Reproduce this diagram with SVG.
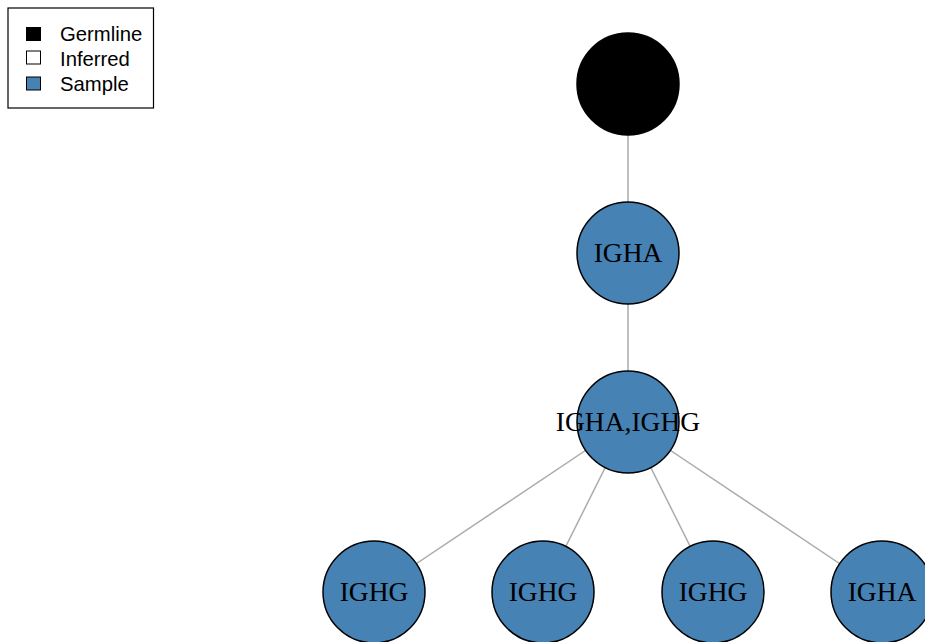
<svg xmlns="http://www.w3.org/2000/svg" width="925" height="642" viewBox="0 0 925 642">
<style>
.edge{stroke:#aaaaaa;stroke-width:1.5;fill:none}
.node{stroke:#000;stroke-width:1.5}
.sample{fill:#4682b4}
.lbl{font-family:"Liberation Serif","Times New Roman",serif;font-size:27.5px;fill:#000;text-anchor:middle}
.leg{font-family:"Liberation Sans",Arial,sans-serif;font-size:20.3px;fill:#000}
</style>
<rect width="925" height="642" fill="#fff"/>
<g id="legend">
<rect x="8" y="8" width="145.5" height="100" fill="#fff" stroke="#000" stroke-width="1.2"/>
<rect x="26.5" y="27.5" width="14" height="13" fill="#000" stroke="#000" stroke-width="1"/>
<rect x="26.5" y="51" width="14" height="13" fill="#fff" stroke="#000" stroke-width="1"/>
<rect x="26.5" y="77" width="14" height="13" fill="#4682b4" stroke="#000" stroke-width="1"/>
<text class="leg" x="60" y="41">Germline</text>
<text class="leg" x="60" y="66">Inferred</text>
<text class="leg" x="60" y="91">Sample</text>
</g>
<g id="edges">
<line class="edge" x1="628" y1="84" x2="628" y2="253"/>
<line class="edge" x1="628" y1="253" x2="628" y2="422"/>
<line class="edge" x1="628" y1="422" x2="374" y2="592"/>
<line class="edge" x1="628" y1="422" x2="543" y2="592"/>
<line class="edge" x1="628" y1="422" x2="713" y2="592"/>
<line class="edge" x1="628" y1="422" x2="882" y2="592"/>
</g>
<g id="germline"><circle class="node" cx="628" cy="84" r="51" fill="#000"/></g>
<g id="n1"><circle class="node sample" cx="628" cy="253" r="51"/><text class="lbl" x="628" y="262">IGHA</text></g>
<g id="n2"><circle class="node sample" cx="628" cy="422" r="51"/><text class="lbl" x="628" y="431">IGHA,IGHG</text></g>
<g id="n3"><circle class="node sample" cx="374" cy="592" r="51"/><text class="lbl" x="374" y="601">IGHG</text></g>
<g id="n4"><circle class="node sample" cx="543" cy="592" r="51"/><text class="lbl" x="543" y="601">IGHG</text></g>
<g id="n5"><circle class="node sample" cx="713" cy="592" r="51"/><text class="lbl" x="713" y="601">IGHG</text></g>
<g id="n6"><circle class="node sample" cx="882" cy="592" r="51"/><text class="lbl" x="882" y="601">IGHA</text></g>
</svg>
